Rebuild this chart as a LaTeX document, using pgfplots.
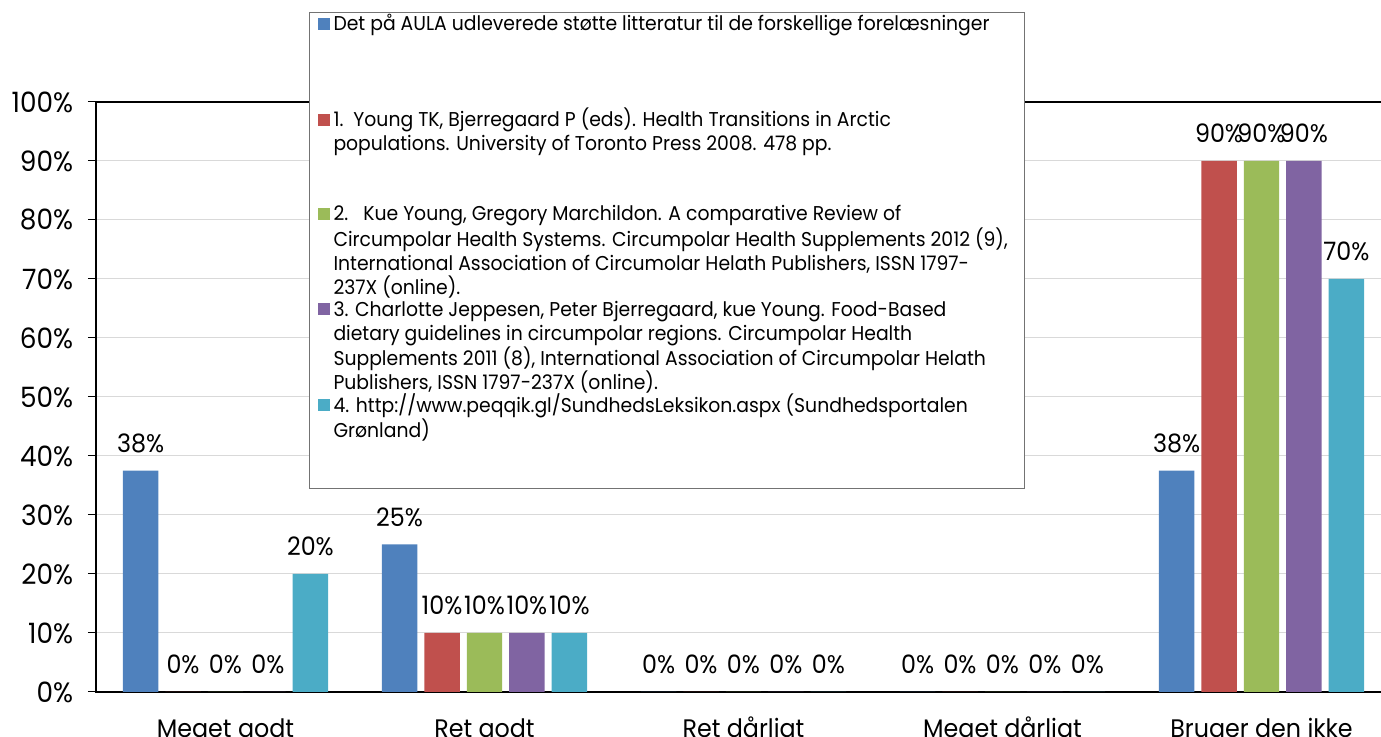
\documentclass[border=0pt]{standalone}
\usepackage{fontspec}
\setmainfont{Poppins}[FakeStretch=0.94]
\usepackage{pgfplots}
\pgfplotsset{compat=1.18}
\definecolor{c1}{HTML}{4F81BD}
\definecolor{c2}{HTML}{C0504D}
\definecolor{c3}{HTML}{9BBB59}
\definecolor{c4}{HTML}{8064A2}
\definecolor{c5}{HTML}{4BACC6}
\definecolor{gridc}{HTML}{D9D9D9}
\newcommand{\LE}[1]{\parbox[t][71.4pt][t]{512pt}{\raggedright\rule{0pt}{13.5pt}#1}}
\begin{document}
\begin{tikzpicture}
\useasboundingbox (0,0) rectangle (1035.75pt,552.75pt);
\clip (0,0) rectangle (1035.75pt,552.75pt);
\begin{scope}[overlay]
\begin{axis}[
  at={(72pt,33.75pt)}, anchor=south west,
  scale only axis, width=971.25pt, height=442.5pt,
  xmin=-0.5, xmax=4.5, ymin=0, ymax=100,
  ybar=5.25pt, bar width=26.6pt,
  xtick={0,1,2,3,4},
  xticklabels={Meget godt, Ret godt, Ret dårligt, Meget dårligt, Bruger den ikke},
  ytick={0,10,20,30,40,50,60,70,80,90,100},
  yticklabels={0\%,10\%,20\%,30\%,40\%,50\%,60\%,70\%,80\%,90\%,100\%},
  /pgf/number format/assume math mode=true,
  tick align=outside,
  major tick length=6pt,
  xtick style={draw=none},
  ytick style={black, line width=0.75pt},
  yticklabel style={font=\fontsize{21}{24}\selectfont, anchor=east, inner sep=0pt, xshift=-11pt},
  xticklabel style={font=\fontsize{19}{22}\selectfont, anchor=base, inner sep=0pt, yshift=-28.5pt},
  ymajorgrids, grid style={gridc, line width=0.75pt},
  axis line style={black, line width=1.8pt},
  nodes near coords={\pgfmathprintnumber[fixed,precision=0]{\pgfplotspointmeta}\%},
  every node near coord/.append style={font=\fontsize{19}{22}\selectfont, anchor=base, inner sep=0pt, yshift=13.5pt, black},
  legend style={at={(axis description cs:0,1)}, anchor=north west,
    xshift=159.75pt, yshift=67.5pt,
    draw=black!55, line width=0.75pt, fill=white,
    inner xsep=6pt, inner ysep=0pt,
    nodes={inner sep=0pt, text depth=},
    cells={anchor=base west},
    column sep=3pt, row sep=0pt,
    font=\fontsize{15}{18}\selectfont},
  legend image code/.code={\fill[#1] (0pt,0.5pt) rectangle (9pt,9.5pt);},
]
\addplot[fill=c1, draw=none] coordinates {(0,37.5) (1,25) (2,0) (3,0) (4,37.5)};
\addplot[fill=c2, draw=none] coordinates {(0,0) (1,10) (2,0) (3,0) (4,90)};
\addplot[fill=c3, draw=none] coordinates {(0,0) (1,10) (2,0) (3,0) (4,90)};
\addplot[fill=c4, draw=none] coordinates {(0,0) (1,10) (2,0) (3,0) (4,90)};
\addplot[fill=c5, draw=none] coordinates {(0,20) (1,10) (2,0) (3,0) (4,70)};
\addlegendentry{\LE{Det på AULA udleverede støtte litteratur til de forskellige forelæsninger}}
\addlegendentry{\LE{1.\ \ Young TK, Bjerregaard P (eds). Health Transitions in Arctic\\populations. University of Toronto Press 2008. 478 pp.}}
\addlegendentry{\LE{2.\ \ \ Kue Young, Gregory Marchildon. A comparative Review of\\Circumpolar Health Systems. Circumpolar Health Supplements 2012 (9),\\International Association of Circumolar Helath Publishers, ISSN 1797-\\237X (online).}}
\addlegendentry{\LE{3. Charlotte Jeppesen, Peter Bjerregaard, kue Young. Food-Based\\dietary guidelines in circumpolar regions. Circumpolar Health\\Supplements 2011 (8), International Association of Circumpolar Helath\\Publishers, ISSN 1797-237X (online).}}
\addlegendentry{\LE{4. http://www.peqqik.gl/SundhedsLeksikon.aspx (Sundhedsportalen\\Grønland)}}
\end{axis}
\end{scope}
\end{tikzpicture}
\end{document}
